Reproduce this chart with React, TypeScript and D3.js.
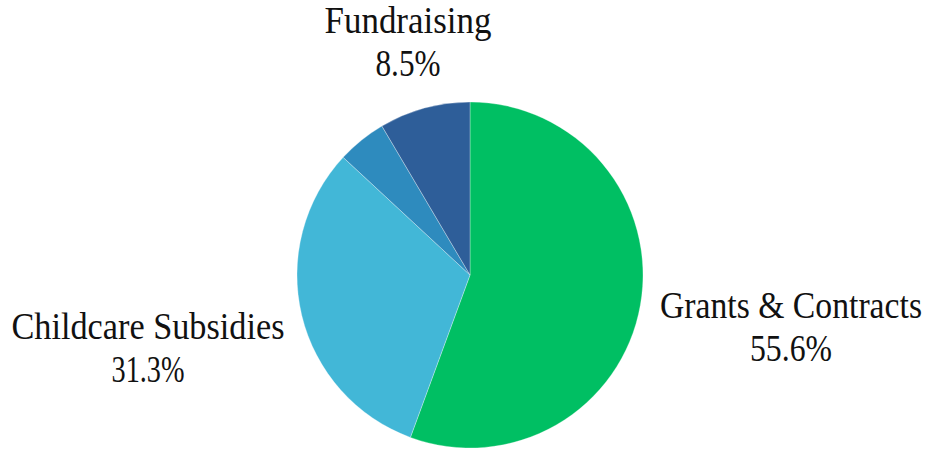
import React, { useEffect, useRef } from "react";
import * as d3 from "d3";

const categories = ["Grants & Contracts", "Childcare Subsidies", "Other", "Fundraising"];
const values = [55.6, 31.3, 4.6, 8.5];
const showLabel = [true, true, false, true];
const colors = ["#00BF63", "#42B7D7", "#2E8BBE", "#2E5E99"];

const W = 926;
const H = 449;
const CX = 470;
const CY = 275;
const R = 173;
const GAP = 22;
const LINE = 43;
const FONT = 37;
const LABEL_W = [262, 273, 0, 167];
const PCT_W = [82, 73, 0, 65];
const LABEL_H = 68;
const NUDGE: [number, number][] = [[0, 12], [0, 20], [0, 0], [11, -12]];

export default function App() {
  const ref = useRef<SVGSVGElement>(null);

  useEffect(() => {
    if (!ref.current) return;
    const svg = d3.select(ref.current);
    svg.selectAll("*").remove();
    const pie = d3.pie<number>().sort(null).value((d) => d)(values);
    const arc = d3.arc<d3.PieArcDatum<number>>().innerRadius(0).outerRadius(R);
    const total = d3.sum(values);

    svg
      .append("g")
      .attr("transform", `translate(${CX},${CY})`)
      .selectAll("path")
      .data(pie)
      .join("path")
      .attr("d", (d) => arc(d) || "")
      .attr("fill", (_, i) => colors[i])
      .attr("stroke", "#ffffff")
      .attr("stroke-opacity", 0.5)
      .attr("stroke-width", 0.6);

    const labels = pie
      .map((p, i) => {
        const a = (p.startAngle + p.endAngle) / 2;
        const s = Math.sin(a);
        const c = -Math.cos(a);
        const cx = CX + s * (R + GAP + LABEL_W[i] / 2) + NUDGE[i][0];
        const cy = CY + c * (R + GAP + LABEL_H / 2) + NUDGE[i][1];
        return { i, cx: Math.round(cx), b1: Math.round(cy - 9), pct: ((values[i] / total) * 100).toFixed(1) + "%" };
      })
      .filter((l) => showLabel[l.i]);

    const tg = svg.append("g").attr("font-family", "Liberation Serif").attr("font-size", FONT).attr("fill", "#111");
    labels.forEach((l) => {
      tg.append("text")
        .attr("x", l.cx - LABEL_W[l.i] / 2)
        .attr("y", l.b1)
        .attr("font-family", "Liberation Serif")
        .attr("textLength", LABEL_W[l.i])
        .attr("lengthAdjust", "spacingAndGlyphs")
        .text(categories[l.i]);
      tg.append("text")
        .attr("x", l.cx - PCT_W[l.i] / 2)
        .attr("y", l.b1 + LINE)
        .attr("font-family", "Liberation Serif")
        .attr("textLength", PCT_W[l.i])
        .attr("lengthAdjust", "spacingAndGlyphs")
        .text(l.pct);
    });
  }, []);

  return <svg ref={ref} width={W} height={H} style={{ position: "absolute", left: 0, top: 0 }} />;
}
